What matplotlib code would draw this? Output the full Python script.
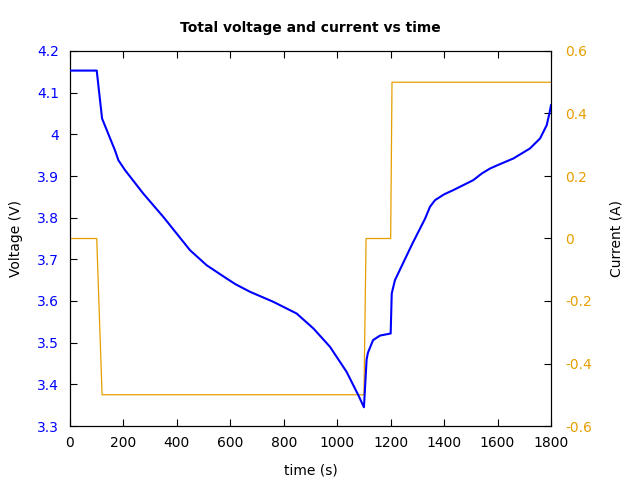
import matplotlib
matplotlib.use("Agg")
import matplotlib.pyplot as plt
from matplotlib.ticker import FuncFormatter

# Voltage data (time s, volts)
t_v = [0, 100, 120, 168, 181, 206, 274, 349, 399, 449, 511, 586, 620, 674, 761,
       848, 911, 973, 1035, 1079, 1100, 1110, 1115, 1134, 1160, 1200, 1204, 1216,
       1280, 1329, 1347, 1366, 1400, 1434, 1509, 1541, 1572, 1600, 1659, 1721,
       1759, 1784, 1794, 1800]
voltage = [4.153, 4.153, 4.038, 3.962, 3.938, 3.914, 3.858, 3.802, 3.762, 3.722,
           3.686, 3.654, 3.640, 3.622, 3.598, 3.570, 3.534, 3.490, 3.430, 3.374,
           3.345, 3.460, 3.476, 3.506, 3.517, 3.522, 3.618, 3.650, 3.736, 3.798,
           3.826, 3.842, 3.856, 3.866, 3.890, 3.906, 3.918, 3.926, 3.942, 3.966,
           3.990, 4.022, 4.050, 4.070]

# Current data (time s, amps)
t_i = [0, 100, 120, 1100, 1108, 1200, 1205, 1800]
current = [0, 0, -0.5, -0.5, 0, 0, 0.5, 0.5]

x_ticks = [0, 200, 400, 600, 800, 1000, 1200, 1400, 1600, 1800]
v_ticks = [3.3, 3.4, 3.5, 3.6, 3.7, 3.8, 3.9, 4.0, 4.1, 4.2]
i_ticks = [-0.6, -0.4, -0.2, 0, 0.2, 0.4, 0.6]

BLUE = "#0000ff"
ORANGE = "#e69f00"

fig = plt.figure(figsize=(6.4, 4.8), dpi=100)
ax = fig.add_axes([70/640, 1-426/480, (551-70)/640, (426-51)/480])
ax2 = ax.twinx()

ax.plot(t_v, voltage, color=BLUE, lw=1.5, zorder=3)
ax2.plot(t_i, current, color=ORANGE, lw=0.9)
ax.set_zorder(ax2.get_zorder() + 1)
ax.patch.set_visible(False)

ax.set_xlim(0, 1800)
ax.set_ylim(3.3, 4.2)
ax2.set_ylim(-0.6, 0.6)
ax.set_xticks(x_ticks)
ax.set_yticks(v_ticks)
ax2.set_yticks(i_ticks)

fmt = FuncFormatter(lambda v, p: "%g" % round(v, 6))
ax.yaxis.set_major_formatter(fmt)
ax2.yaxis.set_major_formatter(fmt)

ax.tick_params(axis='x', direction='in', top=True, length=5, labelsize=10, pad=7)
ax.tick_params(axis='y', direction='in', length=5, labelsize=10, labelcolor=BLUE, pad=8)
ax2.tick_params(axis='y', direction='in', length=5, labelsize=10, labelcolor=ORANGE, pad=10)

ax.set_xlabel("time (s)", fontsize=10, labelpad=10)
ax.set_ylabel("Voltage (V)", fontsize=10, labelpad=10)
ax2.set_ylabel("Current (A)", fontsize=10, labelpad=13)
ax.set_title("Total voltage and current vs time", fontsize=10, fontweight='bold', pad=14)

fig.savefig("out.png", dpi=100)
